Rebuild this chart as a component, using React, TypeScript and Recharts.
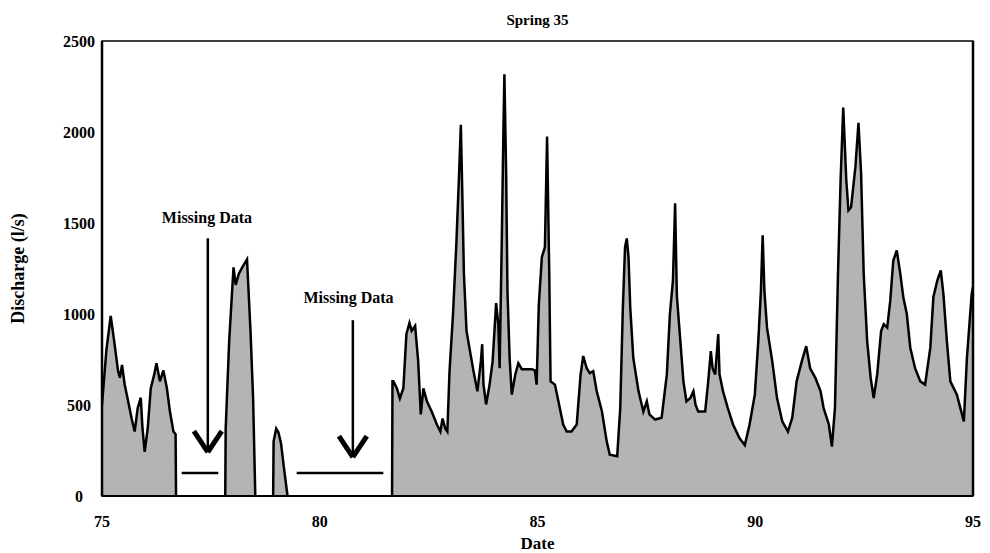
import {
  Area,
  ComposedChart,
  Label,
  ReferenceArea,
  ReferenceDot,
  ReferenceLine,
  XAxis,
  YAxis,
} from "recharts";

// date (decimal year, 19xx) and discharge (l/s); null = gap in the record
const dates = [
  75.0, 75.1, 75.2, 75.28, 75.31, 75.37, 75.41, 75.46, 75.52, 75.6, 75.68, 75.75, 75.82, 75.89, 75.93, 75.98,
  76.05, 76.12, 76.2, 76.25, 76.33, 76.41, 76.49, 76.56, 76.64, 76.69, 76.7, 76.71,
  77.83, 77.84, 77.92, 78.02, 78.07, 78.14, 78.22, 78.33, 78.41, 78.47, 78.52, 78.53,
  78.93, 78.94, 79.0, 79.05, 79.11, 79.18, 79.26, 79.27,
  81.66, 81.67, 81.69, 81.77, 81.84, 81.92, 81.99, 82.06, 82.11, 82.19, 82.26, 82.32, 82.38, 82.46, 82.57,
  82.69, 82.77, 82.82, 82.88, 82.93, 82.98, 83.06, 83.14, 83.2, 83.24, 83.28, 83.31, 83.37, 83.45, 83.53,
  83.62, 83.7, 83.73, 83.76, 83.82, 83.9, 83.97, 84.05, 84.1, 84.13, 84.18, 84.22, 84.24, 84.28, 84.31,
  84.36, 84.41, 84.49, 84.56, 84.64, 84.76, 84.87, 84.94, 84.98, 85.03, 85.1, 85.17, 85.22, 85.27, 85.3,
  85.4, 85.48, 85.59, 85.67, 85.78, 85.9, 85.99, 86.05, 86.13, 86.2, 86.28, 86.36, 86.48, 86.59, 86.66,
  86.83, 86.9, 86.96, 87.01, 87.05, 87.09, 87.13, 87.2, 87.32, 87.43, 87.51, 87.57, 87.7, 87.85, 87.97,
  88.04, 88.11, 88.16, 88.2, 88.28, 88.35, 88.42, 88.51, 88.58, 88.63, 88.69, 88.85, 88.92, 88.98, 89.02,
  89.08, 89.15, 89.18, 89.26, 89.37, 89.49, 89.64, 89.76, 89.87, 89.99, 90.07, 90.13, 90.17, 90.21, 90.27,
  90.39, 90.5, 90.62, 90.75, 90.85, 90.95, 91.07, 91.17, 91.26, 91.38, 91.5, 91.57, 91.69, 91.76, 91.83,
  91.9, 91.96, 92.02, 92.09, 92.14, 92.2, 92.3, 92.37, 92.43, 92.49, 92.57, 92.65, 92.72, 92.8, 92.89,
  92.95, 93.03, 93.1, 93.17, 93.25, 93.33, 93.4, 93.48, 93.56, 93.67, 93.79, 93.9, 94.02, 94.09, 94.18,
  94.26, 94.32, 94.4, 94.48, 94.63, 94.71, 94.79, 94.86, 94.97, 95.0,
];

const discharge = [
  500, 800, 990, 850, 795, 685, 650, 720, 614, 520, 426, 354, 483, 540, 371, 243,
  371, 592, 668, 730, 630, 690, 592, 464, 354, 340, 0, null,
  0, 371, 850, 1256, 1160, 1220, 1256, 1300, 907, 536, 0, null,
  0, 300, 370, 350, 290, 150, 0, null,
  0, 630, 630, 592, 536, 592, 890, 951, 907, 935, 741, 448, 592, 520, 464,
  393, 354, 426, 372, 354, 686, 1000, 1405, 1775, 2040, 1587, 1222, 907, 796, 686,
  575, 741, 834, 612, 503, 612, 741, 1060, 945, 702, 1405, 2050, 2317, 1775, 1128,
  757, 557, 668, 730, 697, 697, 697, 690, 612, 1050, 1312, 1367, 1975, 1222, 630,
  612, 520, 393, 354, 354, 393, 668, 769, 702, 675, 686, 575, 464, 299, 227,
  218, 483, 1035, 1367, 1415, 1312, 1035, 757, 575, 464, 520, 448, 420, 430, 668,
  1000, 1183, 1609, 1100, 851, 630, 520, 538, 575, 500, 464, 464, 630, 796, 702,
  668, 890, 668, 575, 483, 393, 317, 280, 393, 557, 851, 1128, 1432, 1128, 925,
  741, 538, 410, 354, 430, 630, 741, 823, 702, 649, 575, 483, 393, 271, 483,
  1222, 1736, 2134, 1736, 1570, 1587, 1808, 2050, 1775, 1222, 851, 649, 538, 668, 907,
  944, 925, 1073, 1294, 1349, 1222, 1092, 1000, 815, 702, 630, 612, 815, 1092, 1183,
  1239, 1110, 851, 630, 557, 483, 410, 757, 1110, 1150,
];

const xTicks = [75, 80, 85, 90, 95];
const yTicks = [0, 500, 1000, 1500, 2000, 2500];

// "Missing Data" annotations
const missingStart = [76.83, 79.47];
const missingEnd = [77.67, 81.46];
const missingLevel = 126;
const arrowDate = [77.43, 80.76];
const arrowTop = [1416, 966];
const arrowTip = [241, 214];
const noteDate = [77.41, 80.66];
const noteLevel = [1532, 1093];

const data = dates.map((date, i) => ({ date, q: discharge[i] }));

const FONT = "'Liberation Serif', 'DejaVu Serif', serif";

const tickStyle = { fontFamily: FONT, fontSize: 16, fontWeight: "bold", fill: "#000" };

// y tick labels are centred in the old figure, not right-aligned
const YTick = ({ x, y, payload }: any) => (
  <text
    x={x - 6}
    y={y}
    textAnchor="middle"
    dominantBaseline="central"
    style={tickStyle}
  >
    {payload.value}
  </text>
);

const XTitle = ({ viewBox }: any) => (
  <text
    x={viewBox.x + viewBox.width / 2}
    y={viewBox.y + 47}
    textAnchor="middle"
    dominantBaseline="central"
    style={{ fontFamily: FONT, fontSize: 17, fontWeight: "bold" }}
    fill="#000"
  >
    Date
  </text>
);

const YTitle = ({ viewBox }: any) => {
  const cx = 18;
  const cy = viewBox.y + viewBox.height / 2;
  return (
    <text
      x={cx}
      y={cy}
      transform={`rotate(-90, ${cx}, ${cy})`}
      textAnchor="middle"
      dominantBaseline="central"
      style={{ fontFamily: FONT, fontSize: 18, fontWeight: "bold" }}
      fill="#000"
    >
      Discharge (l/s)
    </text>
  );
};

export default function App() {
  return (
    <div style={{ width: 990, height: 553, background: "#fff" }}>
      <style>{`body{margin:0;background:#fff}`}</style>
      <ComposedChart
        width={990}
        height={553}
        data={data}
        margin={{ top: 41, right: 17, bottom: 0, left: 0 }}
      >
        <XAxis
          dataKey="date"
          type="number"
          domain={[75, 95]}
          ticks={xTicks}
          allowDataOverflow
          height={57}
          tickLine={false}
          tickSize={6}
          tickMargin={14}
          axisLine={{ stroke: "#000", strokeWidth: 2 }}
          tick={tickStyle}
          label={<Label content={XTitle} />}
        />
        <YAxis
          type="number"
          domain={[0, 2500]}
          ticks={yTicks}
          width={102}
          tickLine={false}
          tickSize={6}
          tickMargin={11}
          axisLine={{ stroke: "#000", strokeWidth: 2.5 }}
          tick={<YTick />}
          label={<Label content={YTitle} />}
        />
        <Area
          type="linear"
          dataKey="q"
          stroke="#000"
          strokeWidth={2.5}
          fill="#b4b4b4"
          fillOpacity={1}
          isAnimationActive={false}
          dot={false}
          activeDot={false}
        />
        <ReferenceArea
          x1={75}
          x2={95}
          y1={0}
          y2={2500}
          fill="none"
          stroke="#000"
          strokeWidth={1.5}
          label={{
            value: "Spring 35",
            position: "top",
            offset: 16,
            style: { fontFamily: FONT, fontSize: 15, fontWeight: "bold", fill: "#000" },
          }}
        />
        <ReferenceLine x={95} stroke="#000" strokeWidth={2.5} />
        {missingStart.map((s, i) => (
          <ReferenceLine
            key={`gap-${i}`}
            segment={[
              { x: s, y: missingLevel },
              { x: missingEnd[i], y: missingLevel },
            ]}
            stroke="#000"
            strokeWidth={2.5}
          />
        ))}
        {arrowDate.map((d, i) => (
          <ReferenceLine
            key={`shaft-${i}`}
            segment={[
              { x: d, y: arrowTop[i] },
              { x: d, y: arrowTip[i] },
            ]}
            stroke="#000"
            strokeWidth={2.5}
          />
        ))}
        {arrowDate.map((d, i) => (
          <ReferenceLine
            key={`headl-${i}`}
            segment={[
              { x: d - 0.32, y: arrowTip[i] + 115 },
              { x: d, y: arrowTip[i] },
            ]}
            stroke="#000"
            strokeWidth={5}
          />
        ))}
        {arrowDate.map((d, i) => (
          <ReferenceLine
            key={`headr-${i}`}
            segment={[
              { x: d + 0.32, y: arrowTip[i] + 115 },
              { x: d, y: arrowTip[i] },
            ]}
            stroke="#000"
            strokeWidth={5}
          />
        ))}
        {noteDate.map((d, i) => (
          <ReferenceDot
            key={`note-${i}`}
            x={d}
            y={noteLevel[i]}
            r={1}
            fill="none"
            stroke="none"
            label={{
              value: "Missing Data",
              position: "center",
              style: { fontFamily: FONT, fontSize: 16, fontWeight: "bold", fill: "#000" },
            }}
          />
        ))}
      </ComposedChart>
    </div>
  );
}
